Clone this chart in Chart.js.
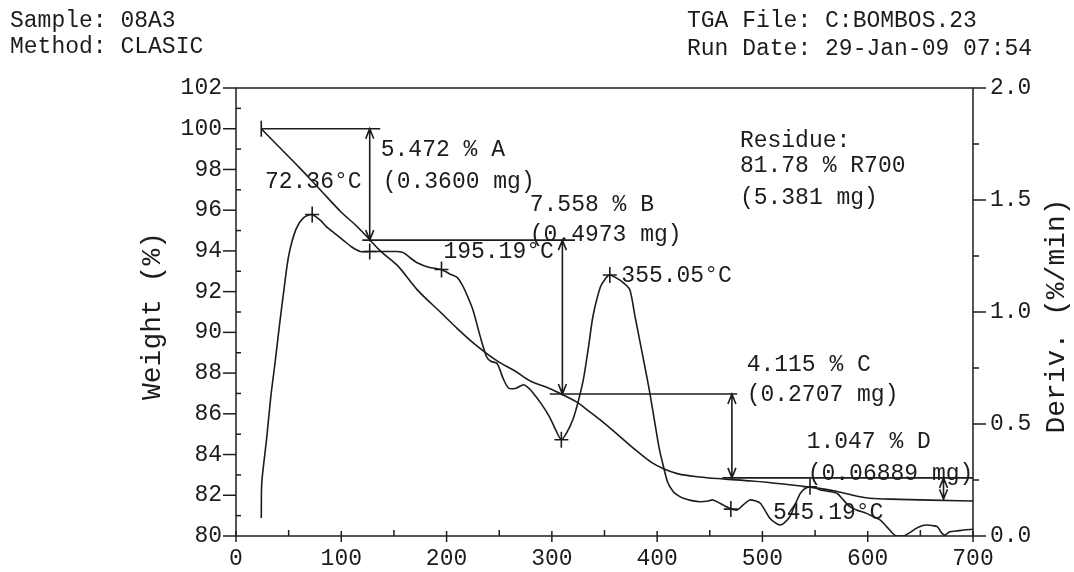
<!DOCTYPE html>
<html>
<head>
<meta charset="utf-8">
<title>TGA 08A3</title>
<script src="https://cdn.jsdelivr.net/npm/chart.js@4.4.1/dist/chart.umd.min.js"></script>
<style>
  html, body { margin: 0; padding: 0; background: #fff; }
  #wrap { width: 1074px; height: 572px; }
</style>
</head>
<body>
<div id="wrap"><canvas id="tgaChart" width="1074" height="572"></canvas></div>
<script>
// Weight curve (left axis, %)
const weightTemp = [24, 40, 60, 80, 100, 115, 127, 137, 153, 172, 194, 210, 225, 248, 265, 280, 295, 309,
    323, 336, 346, 362, 380, 395, 406, 420, 440, 463, 490, 520, 545, 570, 590, 602, 630, 660, 700];
const weightPct = [100, 99.15, 98.1, 97.0, 95.9, 95.2, 94.55, 94.0, 93.3, 92.1, 91.0, 90.2, 89.5, 88.6, 88.1,
    87.6, 87.3, 86.97, 86.6, 86.1, 85.7, 85.0, 84.2, 83.6, 83.3, 83.05, 82.9, 82.8, 82.7, 82.55, 82.4, 82.2,
    81.95, 81.85, 81.8, 81.76, 81.72];

// Derivative curve (right axis, %/min)
const derivTemp = [24, 24.5, 29, 33, 37, 41, 45, 50, 57, 64, 72, 80, 86, 94, 102, 110, 118, 127, 140, 147, 153,
    159, 166, 172, 183, 195, 203, 210, 215, 219, 225, 232, 238, 242, 248, 254, 259, 266, 273, 278, 282, 290, 298,
    304, 309, 314, 320, 325, 330, 335, 339, 346, 351, 355, 362, 368, 374, 379, 384, 389, 393, 398, 402, 406, 410,
    415, 420, 425, 433, 441, 447, 453, 460, 469, 476, 482, 488, 493, 498, 503, 507, 512, 517, 521, 526, 531, 536,
    540, 545, 550, 555, 562, 571, 577, 583, 590, 599, 606, 612, 618, 623, 627, 634, 640, 646, 651, 656, 661, 666,
    670, 673, 678, 684, 691, 700];
const derivRate = [0.08, 0.24, 0.43, 0.62, 0.77, 0.93, 1.08, 1.25, 1.37, 1.42, 1.435, 1.41, 1.38, 1.35, 1.32,
    1.29, 1.27, 1.27, 1.27, 1.27, 1.27, 1.265, 1.24, 1.22, 1.20, 1.19, 1.17, 1.155, 1.12, 1.08, 1.01, 0.89, 0.80,
    0.78, 0.77, 0.70, 0.66, 0.66, 0.675, 0.66, 0.64, 0.59, 0.53, 0.47, 0.43, 0.46, 0.52, 0.60, 0.70, 0.85, 0.98,
    1.11, 1.15, 1.165, 1.15, 1.13, 1.10, 0.98, 0.86, 0.74, 0.64, 0.50, 0.39, 0.31, 0.24, 0.20, 0.18, 0.168, 0.158,
    0.153, 0.155, 0.161, 0.145, 0.124, 0.116, 0.14, 0.161, 0.157, 0.146, 0.11, 0.079, 0.06, 0.049, 0.06, 0.086,
    0.14, 0.19, 0.21, 0.22, 0.215, 0.205, 0.2, 0.19, 0.16, 0.131, 0.115, 0.101, 0.085, 0.071, 0.042, 0.015, 0.0,
    0.0, 0.015, 0.034, 0.045, 0.049, 0.047, 0.042, 0.015, 0.004, 0.019, 0.022, 0.027, 0.03];

// Step analysis: weight levels, the horizontal lines and the double arrows
const stepLevel = [100, 94.528, 86.970, 82.855, 81.808];
const levelFrom = [24, 120, 298, 462];
const levelTo = [137, 322, 476, 700];
const arrowTemp = [127, 310, 471, 672];

// Peak / onset markers on the derivative curve
const markTemp = [72.36, 127, 195.19, 309, 355.05, 470, 545.19];
const markRate = [1.435, 1.27, 1.19, 0.43, 1.165, 0.12, 0.22];

// Annotation texts (placed in data units: temperature, weight %)
const noteText = ['72.36°C', '5.472 % A', '(0.3600 mg)', '7.558 % B', '(0.4973 mg)', '195.19°C', '355.05°C',
    'Residue:', '81.78 % R700', '(5.381 mg)', '4.115 % C', '(0.2707 mg)', '1.047 % D', '(0.06889 mg)', '545.19°C'];
const noteTemp = [27.5, 137.5, 139.5, 279, 279, 197, 366, 478.6, 478.6, 478.6, 485, 485, 542, 543, 510];
const noteWeight = [97.4, 98.95, 97.4, 96.25, 94.78, 93.95, 92.77, 99.4, 98.17, 96.6, 88.4, 86.93, 84.61, 83.04, 81.13];

// Tick labels
const xTicks = [0, 100, 200, 300, 400, 500, 600, 700];
const weightTicks = [80, 82, 84, 86, 88, 90, 92, 94, 96, 98, 100, 102];
const derivTicks = [0.0, 0.5, 1.0, 1.5, 2.0];

const headerLeft = ['Sample: 08A3', 'Method: CLASIC'];
const headerRight = ['TGA File: C:BOMBOS.23', 'Run Date: 29-Jan-09 07:54'];

const MONO = "'Liberation Mono', 'DejaVu Sans Mono', monospace";
const INK = '#1c1c1c';

document.addEventListener('DOMContentLoaded', () => {
    const ctx = document.getElementById('tgaChart').getContext('2d');

    const tgaPlugin = {
        id: 'tgaDecor',
        afterDatasetsDraw(chart) {
            const c = chart.ctx;
            const { x, y, y2 } = chart.scales;
            const area = chart.chartArea;

            c.save();
            c.strokeStyle = INK;
            c.fillStyle = INK;
            c.lineWidth = 1.5;

            // frame
            c.strokeRect(area.left, area.top, area.right - area.left, area.bottom - area.top);

            // left axis ticks
            for (let v = 80; v <= 102; v++) {
                const py = y.getPixelForValue(v);
                c.beginPath();
                if (v % 2 === 0) { c.moveTo(area.left - 13, py); c.lineTo(area.left, py); }
                else { c.moveTo(area.left, py); c.lineTo(area.left + 5, py); }
                c.stroke();
            }
            // right axis ticks
            for (let v = 0; v <= 2.001; v += 0.25) {
                const py = y2.getPixelForValue(v);
                const major = Math.abs(v * 2 - Math.round(v * 2)) < 1e-6;
                c.beginPath();
                c.moveTo(area.right, py);
                c.lineTo(area.right + (major ? 13 : 6), py);
                c.stroke();
            }
            // bottom axis ticks
            for (let v = 0; v <= 700; v += 50) {
                const px = x.getPixelForValue(v);
                c.beginPath();
                if (v % 100 === 0) { c.moveTo(px, area.bottom - 5); c.lineTo(px, area.bottom + 6); }
                else { c.moveTo(px, area.bottom - 6); c.lineTo(px, area.bottom); }
                c.stroke();
            }

            // level lines
            c.lineWidth = 1.6;
            levelFrom.forEach((t0, i) => {
                const py = y.getPixelForValue(stepLevel[i]);
                c.beginPath();
                c.moveTo(x.getPixelForValue(t0), py);
                c.lineTo(x.getPixelForValue(levelTo[i]), py);
                c.stroke();
            });
            // start tick of the first level line
            const sx = x.getPixelForValue(levelFrom[0]);
            const sy = y.getPixelForValue(stepLevel[0]);
            c.beginPath(); c.moveTo(sx, sy - 8); c.lineTo(sx, sy + 8); c.stroke();

            // double arrows between levels
            arrowTemp.forEach((t, i) => {
                const px = x.getPixelForValue(t);
                const top = y.getPixelForValue(stepLevel[i]);
                const bot = y.getPixelForValue(stepLevel[i + 1]);
                c.beginPath();
                c.moveTo(px, top); c.lineTo(px, bot);
                c.moveTo(px - 4, top + 10); c.lineTo(px, top); c.lineTo(px + 4, top + 10);
                c.moveTo(px - 4, bot - 10); c.lineTo(px, bot); c.lineTo(px + 4, bot - 10);
                c.stroke();
            });

            // cross markers on the derivative curve
            markTemp.forEach((t, i) => {
                const px = x.getPixelForValue(t);
                const py = y2.getPixelForValue(markRate[i]);
                c.beginPath();
                c.moveTo(px - 7, py); c.lineTo(px + 7, py);
                c.moveTo(px, py - 8); c.lineTo(px, py + 8);
                c.stroke();
            });

            // annotation texts
            c.font = '23px ' + MONO;
            c.textAlign = 'left';
            c.textBaseline = 'middle';
            noteText.forEach((s, i) => {
                c.fillText(s, x.getPixelForValue(noteTemp[i]), y.getPixelForValue(noteWeight[i]));
            });

            c.restore();
        },
        afterDraw(chart) {
            const c = chart.ctx;
            const area = chart.chartArea;
            c.save();
            c.fillStyle = INK;
            c.font = '23px ' + MONO;
            c.textBaseline = 'middle';
            c.textAlign = 'left';
            c.fillText(headerLeft[0], 10, 21);
            c.fillText(headerLeft[1], 10, 47);
            c.fillText(headerRight[0], 687, 21);
            c.fillText(headerRight[1], 687, 49);

            // axis titles, both read bottom to top
            const midY = (area.top + area.bottom) / 2 + 4;
            c.font = '28px ' + MONO;
            c.textAlign = 'center';
            c.save();
            c.translate(153, midY); c.rotate(-Math.PI / 2);
            c.fillText('Weight (%)', 0, 0);
            c.restore();
            c.save();
            c.translate(1057, midY); c.rotate(-Math.PI / 2);
            c.fillText('Deriv. (%/min)', 0, 0);
            c.restore();
            c.restore();
        }
    };

    const tickFont = { family: MONO, size: 23 };

    new Chart(ctx, {
        type: 'line',
        data: {
            datasets: [
                {
                    label: 'Weight (%)',
                    data: weightTemp.map((t, i) => ({ x: t, y: weightPct[i] })),
                    yAxisID: 'y',
                    borderColor: INK,
                    borderWidth: 1.6,
                    pointRadius: 0,
                    cubicInterpolationMode: 'monotone',
                    fill: false
                },
                {
                    label: 'Deriv. (%/min)',
                    data: derivTemp.map((t, i) => ({ x: t, y: derivRate[i] })),
                    yAxisID: 'y2',
                    borderColor: INK,
                    borderWidth: 1.6,
                    pointRadius: 0,
                    tension: 0.25,
                    fill: false
                }
            ]
        },
        options: {
            responsive: false,
            animation: false,
            devicePixelRatio: 1,
            layout: { padding: { top: 88, left: 0, right: 0, bottom: 0 } },
            plugins: {
                legend: { display: false },
                tooltip: { enabled: false }
            },
            scales: {
                x: {
                    type: 'linear',
                    min: 0,
                    max: 700,
                    afterBuildTicks: s => { s.ticks = xTicks.map(v => ({ value: v })); },
                    ticks: { font: tickFont, color: INK, padding: 9, maxRotation: 0 },
                    grid: { display: false, drawTicks: false },
                    border: { display: false },
                    afterFit: s => { s.height = 36; }
                },
                y: {
                    position: 'left',
                    min: 80,
                    max: 102,
                    afterBuildTicks: s => { s.ticks = weightTicks.map(v => ({ value: v })); },
                    ticks: { font: tickFont, color: INK, padding: 14 },
                    grid: { display: false, drawTicks: false },
                    border: { display: false },
                    afterFit: s => { s.width = 236; }
                },
                y2: {
                    position: 'right',
                    min: 0,
                    max: 2,
                    afterBuildTicks: s => { s.ticks = derivTicks.map(v => ({ value: v })); },
                    ticks: { font: tickFont, color: INK, padding: 17, callback: v => v.toFixed(1) },
                    grid: { display: false, drawTicks: false },
                    border: { display: false },
                    afterFit: s => { s.width = 101; }
                }
            }
        },
        plugins: [tgaPlugin]
    });
});
</script>
</body>
</html>
